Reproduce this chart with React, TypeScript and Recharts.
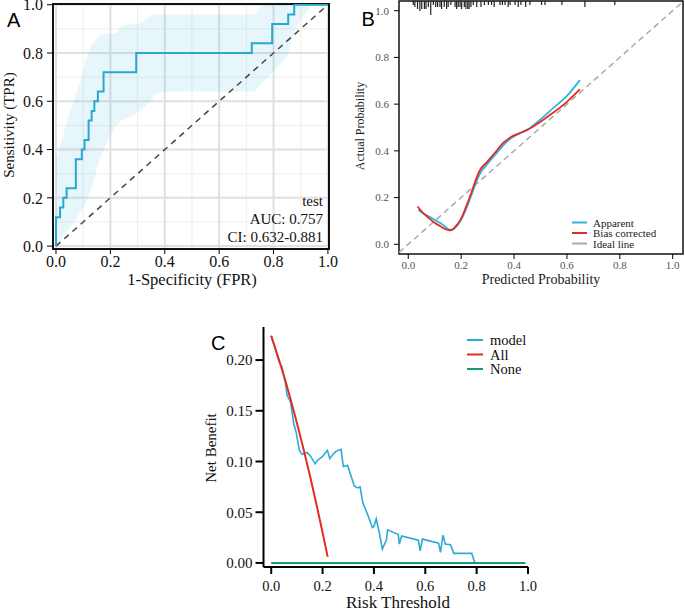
import React from 'react';
import {
  ComposedChart,
  Line,
  Area,
  Scatter,
  XAxis,
  YAxis,
  CartesianGrid,
  ReferenceLine,
  ReferenceArea,
} from 'recharts';

// ---------- Panel A : ROC ----------
const rocFpr = [0, 0, 0.015, 0.027, 0.039, 0.073, 0.095, 0.105, 0.12, 0.131, 0.141, 0.154, 0.175, 0.295, 0.72, 0.795, 0.854, 0.876, 1.0];
const rocTpr = [0, 0.12, 0.16, 0.2, 0.24, 0.36, 0.4, 0.44, 0.52, 0.56, 0.6, 0.64, 0.72, 0.8, 0.84, 0.92, 0.96, 1.0, 1.0];
const bandX = [0, 0.05, 0.09, 0.11, 0.13, 0.16, 0.19, 0.22, 0.24, 0.27, 0.31, 0.35, 0.37, 0.4, 0.73, 0.76, 0.78, 0.85, 0.88, 0.91, 0.94, 1.0];
const bandLow = [0, 0.075, 0.14, 0.18, 0.24, 0.36, 0.44, 0.5, 0.52, 0.535, 0.56, 0.605, 0.633, 0.64, 0.64, 0.68, 0.7, 0.785, 0.9, 0.95, 1.0, 1.0];
const bandHigh = [0.36, 0.55, 0.68, 0.77, 0.83, 0.875, 0.88, 0.88, 0.91, 0.92, 0.92, 0.96, 0.96, 0.96, 0.96, 1.0, 1.0, 1.0, 1.0, 1.0, 1.0, 1.0];
const rocTicks = [0, 0.2, 0.4, 0.6, 0.8, 1.0];
const gridMajor = [0, 0.2, 0.4, 0.6, 0.8, 1.0];
const gridMinor = [0.1, 0.3, 0.5, 0.7, 0.9];
const rocNotes = ['test', 'AUC: 0.757', 'CI: 0.632-0.881'];

// ---------- Panel B : calibration ----------
const appX = [0.038, 0.06, 0.08, 0.1, 0.12, 0.14, 0.158, 0.17, 0.185, 0.2, 0.22, 0.24, 0.26, 0.27, 0.3, 0.33, 0.36, 0.39, 0.42, 0.45, 0.5, 0.55, 0.6, 0.649];
const appY = [0.147, 0.13, 0.118, 0.105, 0.092, 0.075, 0.062, 0.065, 0.08, 0.105, 0.155, 0.215, 0.275, 0.3, 0.345, 0.385, 0.425, 0.455, 0.475, 0.49, 0.535, 0.585, 0.635, 0.703];
const biasX = [0.035, 0.06, 0.08, 0.1, 0.12, 0.14, 0.155, 0.165, 0.18, 0.2, 0.22, 0.24, 0.26, 0.27, 0.3, 0.33, 0.36, 0.39, 0.42, 0.45, 0.5, 0.55, 0.6, 0.649];
const biasY = [0.162, 0.13, 0.11, 0.092, 0.078, 0.065, 0.06, 0.062, 0.078, 0.11, 0.165, 0.225, 0.29, 0.315, 0.355, 0.395, 0.435, 0.46, 0.475, 0.49, 0.525, 0.565, 0.61, 0.663];
const idealX = [-0.035, 1.039];
const rugX = [0.019, 0.025, 0.035, 0.044, 0.051, 0.061, 0.067, 0.076, 0.085, 0.095, 0.104, 0.111, 0.12, 0.126, 0.136, 0.145, 0.151, 0.161, 0.177, 0.183, 0.189, 0.196, 0.202, 0.212, 0.218, 0.225, 0.23, 0.237, 0.246, 0.259, 0.275, 0.288, 0.303, 0.315, 0.325, 0.347, 0.356, 0.366, 0.378, 0.385, 0.404, 0.416, 0.426, 0.444, 0.46, 0.504, 0.517, 0.581, 0.668, 0.781];
const rugN = [1, 2, 3, 4, 3, 3, 3, 2, 6, 1, 2, 2, 2, 3, 2, 3, 2, 1, 2, 3, 2, 2, 3, 2, 3, 3, 3, 2, 1, 2, 2, 1, 1, 1, 2, 1, 1, 1, 2, 1, 1, 2, 1, 2, 1, 1, 1, 1, 2, 1];
const calTicks = [0, 0.2, 0.4, 0.6, 0.8, 1.0];
const calLegend = [
  { name: 'Apparent', color: '#2bb5de' },
  { name: 'Bias corrected', color: '#e62a1f' },
  { name: 'Ideal line', color: '#aaaaaa' },
];

// ---------- Panel C : decision curve ----------
const modelT = [0, 0.03, 0.042, 0.055, 0.062, 0.075, 0.088, 0.097, 0.11, 0.121, 0.14, 0.154, 0.171, 0.18, 0.2, 0.219, 0.228, 0.24, 0.252, 0.272, 0.281, 0.298, 0.307, 0.324, 0.337, 0.346, 0.357, 0.373, 0.394, 0.4, 0.409, 0.42, 0.433, 0.449, 0.453, 0.495, 0.499, 0.508, 0.573, 0.58, 0.589, 0.652, 0.659, 0.669, 0.678, 0.698, 0.711, 0.781, 0.793];
const modelNB = [0.224, 0.199, 0.193, 0.178, 0.165, 0.159, 0.137, 0.129, 0.111, 0.107, 0.109, 0.105, 0.0977, 0.101, 0.105, 0.111, 0.103, 0.107, 0.11, 0.112, 0.095, 0.096, 0.0886, 0.0756, 0.074, 0.075, 0.059, 0.0495, 0.035, 0.036, 0.0436, 0.031, 0.0137, 0.023, 0.0326, 0.028, 0.0186, 0.0267, 0.0225, 0.012, 0.0235, 0.0195, 0.0104, 0.0274, 0.0186, 0.0179, 0.0094, 0.0094, 0];
const allT = [0, 0.05, 0.1, 0.15, 0.2, 0.22];
const allNB = [0.224, 0.184, 0.138, 0.087, 0.03, 0.006];
const noneT = [0, 0.99];
const noneNB = [0, 0];
const dcaXTicks = [0, 0.2, 0.4, 0.6, 0.8, 1.0];
const dcaYTicks = [0, 0.05, 0.1, 0.15, 0.2];
const dcaLegend = [
  { name: 'model', color: '#2ea9d6' },
  { name: 'All', color: '#e62a1f' },
  { name: 'None', color: '#169a78' },
];

const serif = 'Liberation Serif, DejaVu Serif, serif';
const sans = 'Liberation Sans, Arial, sans-serif';
const f1 = (v: number) => v.toFixed(1);
const f2 = (v: number) => v.toFixed(2);

const zipXY = (xs: number[], ys: number[]) => xs.map((x, i) => ({ x, y: ys[i] }));

const rocData = zipXY(rocFpr, rocTpr);
const bandData = bandX.map((x, i) => ({ x, range: [bandLow[i], bandHigh[i]] }));
const appData = zipXY(appX, appY);
const biasData = zipXY(biasX, biasY);
const idealData = zipXY(idealX, idealX);
const RUG_TOP = 1.0415;
const rugData = rugX.map((x, i) => ({ x, y: RUG_TOP, n: rugN[i] }));
const modelData = zipXY(modelT, modelNB);
const allData = zipXY(allT, allNB);
const noneData = zipXY(noneT, noneNB);

const RugTick = (props: any) => {
  const { cx, cy, payload } = props;
  if (cx == null || cy == null) return null;
  return <line x1={cx} x2={cx} y1={cy} y2={cy + 2 + payload.n * 2} stroke="#222" strokeWidth={1.2} />;
};

export default function App() {
  return (
    <div style={{ position: 'absolute', left: 0, top: 0, width: 685, height: 613, background: '#fff', overflow: 'hidden', fontFamily: serif }}>
      {/* Panel A */}
      <div style={{ position: 'absolute', left: 0, top: -10 }}>
        <ComposedChart width={345} height={310} margin={{ top: 14, right: 16, bottom: 0, left: 0 }}>
          <CartesianGrid verticalValues={gridMinor} horizontalValues={gridMinor} stroke="#ededed" strokeWidth={1} />
          <CartesianGrid verticalValues={gridMajor} horizontalValues={gridMajor} stroke="#e0e0e0" strokeWidth={2} />
          <XAxis type="number" dataKey="x" domain={[-0.011, 1.004]} ticks={rocTicks} interval={0} tickFormatter={f1}
            allowDataOverflow axisLine={false} tickLine={{ stroke: '#000' }} tickSize={5} height={51}
            tick={{ fontSize: 16, fill: '#111', fontFamily: serif }} />
          <YAxis type="number" dataKey="y" domain={[-0.012, 1.003]} ticks={rocTicks} interval={0} tickFormatter={f1}
            allowDataOverflow axisLine={false} tickLine={{ stroke: '#000' }} tickSize={6} tickMargin={4} width={53}
            tick={{ fontSize: 16, fill: '#111', fontFamily: serif }} />
          <Area data={bandData} dataKey="range" type="linear" stroke="none" fill="#5bc0de" fillOpacity={0.15} isAnimationActive={false} />
          <ReferenceLine segment={[{ x: 0, y: 0 }, { x: 1, y: 1 }]} stroke="#444" strokeDasharray="6 5" strokeWidth={1.5} />
          <Line data={rocData} dataKey="y" type="stepAfter" stroke="#2aa7cc" strokeWidth={2} dot={false} isAnimationActive={false} />
          <ReferenceArea x1={-0.011} x2={1.004} y1={-0.012} y2={1.003} fill="none" stroke="#111" strokeWidth={2} ifOverflow="visible" />
        </ComposedChart>
      </div>

      {/* Panel B */}
      <div style={{ position: 'absolute', left: 340, top: 0 }}>
        <ComposedChart width={345} height={300} margin={{ top: 1, right: 2, bottom: 0, left: 0 }}>
          <XAxis type="number" dataKey="x" domain={[-0.035, 1.039]} ticks={calTicks} interval={0} tickFormatter={f1}
            allowDataOverflow axisLine={false} tickLine={{ stroke: '#000' }} tickSize={5} height={46}
            tick={{ fontSize: 11, fill: '#555', fontFamily: serif }} />
          <YAxis type="number" dataKey="y" domain={[-0.0415, 1.0415]} ticks={calTicks} interval={0} tickFormatter={f1}
            allowDataOverflow axisLine={false} tickLine={{ stroke: '#000' }} tickSize={5} tickMargin={5} width={59}
            tick={{ fontSize: 11, fill: '#555', fontFamily: serif }} />
          <Line data={idealData} dataKey="y" type="linear" stroke="#aaaaaa" strokeDasharray="6 4" strokeWidth={1.5} dot={false} isAnimationActive={false} />
          <Line data={appData} dataKey="y" type="monotone" stroke="#2bb5de" strokeWidth={1.8} dot={false} isAnimationActive={false} />
          <Line data={biasData} dataKey="y" type="monotone" stroke="#e62a1f" strokeWidth={1.8} dot={false} isAnimationActive={false} />
          <Scatter data={rugData} dataKey="y" shape={RugTick} isAnimationActive={false} />
          <ReferenceArea x1={-0.035} x2={1.039} y1={-0.0415} y2={1.0415} fill="none" stroke="#111" strokeWidth={1.5} ifOverflow="visible" />
        </ComposedChart>
      </div>

      {/* Panel C */}
      <div style={{ position: 'absolute', left: 190, top: 310 }}>
        <ComposedChart width={352} height={303} margin={{ top: 17, right: 14, bottom: 0, left: 0 }}>
          <XAxis type="number" dataKey="x" domain={[-0.03, 1.0]} ticks={dcaXTicks} interval={0} tickFormatter={f1}
            allowDataOverflow axisLine={{ stroke: '#000', strokeWidth: 2 }} tickLine={{ stroke: '#000', strokeWidth: 2 }} tickSize={7} tickMargin={7} height={46}
            tick={{ fontSize: 14.5, fill: '#111', fontFamily: serif }} />
          <YAxis type="number" dataKey="y" domain={[-0.004, 0.2326]} ticks={dcaYTicks} interval={0} tickFormatter={f2}
            allowDataOverflow axisLine={{ stroke: '#000', strokeWidth: 2 }} tickLine={{ stroke: '#000', strokeWidth: 2 }} tickSize={8} tickMargin={3} width={73.5}
            tick={{ fontSize: 15, fill: '#111', fontFamily: serif }} />
          <Line data={modelData} dataKey="y" type="linear" stroke="#2ea9d6" strokeWidth={1.6} dot={false} isAnimationActive={false} />
          <Line data={allData} dataKey="y" type="monotone" stroke="#e62a1f" strokeWidth={2} dot={false} isAnimationActive={false} />
          <Line data={noneData} dataKey="y" type="linear" stroke="#169a78" strokeWidth={2} dot={false} isAnimationActive={false} />
        </ComposedChart>
      </div>

      {/* Text overlay: panel letters, axis titles, annotations, legends */}
      <svg width={685} height={613} style={{ position: 'absolute', left: 0, top: 0, pointerEvents: 'none' }}>
        <text x={7} y={27} fontFamily={sans} fontSize={20} fill="#000">A</text>
        <text x={361.5} y={26} fontFamily={sans} fontSize={20} fill="#000">B</text>
        <text x={211} y={350} fontFamily={sans} fontSize={20} fill="#000">C</text>

        <text x={192} y={285} textAnchor="middle" fontFamily={serif} fontSize={16.5} fill="#111">1-Specificity (FPR)</text>
        <text x={14} y={125} textAnchor="middle" fontFamily={serif} fontSize={15} fill="#111" transform="rotate(-90 14 125)">Sensitivity (TPR)</text>
        {rocNotes.map((t, i) => (
          <text key={t} x={323} y={206 + i * 18} textAnchor="end" fontFamily={serif} fontSize={15} fill="#111">{t}</text>
        ))}

        <text x={541} y={284} textAnchor="middle" fontFamily={serif} fontSize={14} fill="#222">Predicted Probability</text>
        <text x={364} y={126} textAnchor="middle" fontFamily={serif} fontSize={12} fill="#222" transform="rotate(-90 364 126)">Actual Probability</text>
        {calLegend.map((d, i) => (
          <g key={d.name}>
            <line x1={572} x2={587} y1={222.5 + i * 10.5} y2={222.5 + i * 10.5} stroke={d.color} strokeWidth={2} />
            <text x={593} y={226.5 + i * 10.5} fontFamily={serif} fontSize={11} fill="#222">{d.name}</text>
          </g>
        ))}

        <text x={398} y={608} textAnchor="middle" fontFamily={serif} fontSize={17} fill="#111">Risk Threshold</text>
        <text x={216} y={448} textAnchor="middle" fontFamily={serif} fontSize={15} fill="#111" transform="rotate(-90 216 448)">Net Benefit</text>
        {dcaLegend.map((d, i) => (
          <g key={d.name}>
            <line x1={467} x2={483} y1={340 + i * 14.5} y2={340 + i * 14.5} stroke={d.color} strokeWidth={2} />
            <text x={490} y={345 + i * 14.5} fontFamily={serif} fontSize={14.5} fill="#111">{d.name}</text>
          </g>
        ))}
      </svg>
    </div>
  );
}
